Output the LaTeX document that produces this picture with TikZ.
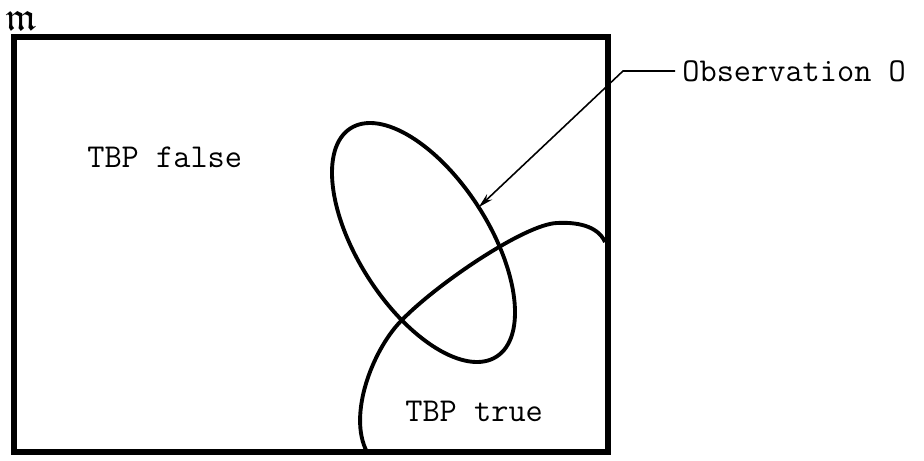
\documentclass[tikz,border=0pt]{standalone}
\usepackage{amssymb}
\usepackage{tikz}
\usetikzlibrary{arrows.meta,positioning,shapes.geometric}

\begin{document}
\begin{tikzpicture}[every node/.style={font=\fontsize{19}{22}\selectfont\ttfamily, inner sep=0pt},
  region/.style={line width=2.2pt}]
\useasboundingbox (0,0) rectangle (18.48,9.2);
\node[draw, line width=3.4pt, outer sep=0pt, minimum width=11.88cm, minimum height=8.3cm, anchor=south west] (space) at (0.28,0.16) {};
\node (univ) at (0.42,8.78) {\scalebox{1.2}{$\mathfrak{m}$}};
\node[anchor=base west] (false) at (1.74,5.86) {TBP false};
\node[anchor=base west] (true) at (8.1,0.78) {TBP true};
\node[ellipse, draw, region, rotate=-57.4, minimum width=5.42cm, minimum height=2.62cm, outer sep=0pt] (obsset) at (8.47,4.35) {};
\draw[region] (12.1,4.36) .. controls (11.95,4.7) and (11.5,4.76) .. (11.14,4.74)
  .. controls (10.5,4.72) and (8.7,3.5) .. (8.0,2.76)
  .. controls (7.45,2.18) and (6.95,0.9) .. (7.34,0.16);
\node[anchor=west, inner xsep=0.14cm] (obs) at (13.5,7.78) {Observation O};
\draw[-{Stealth[length=3mm,width=1.5mm]}, line width=0.9pt] (obs.west) -- ++(-1.04,0) -- (obsset.north);
\end{tikzpicture}
\end{document}
